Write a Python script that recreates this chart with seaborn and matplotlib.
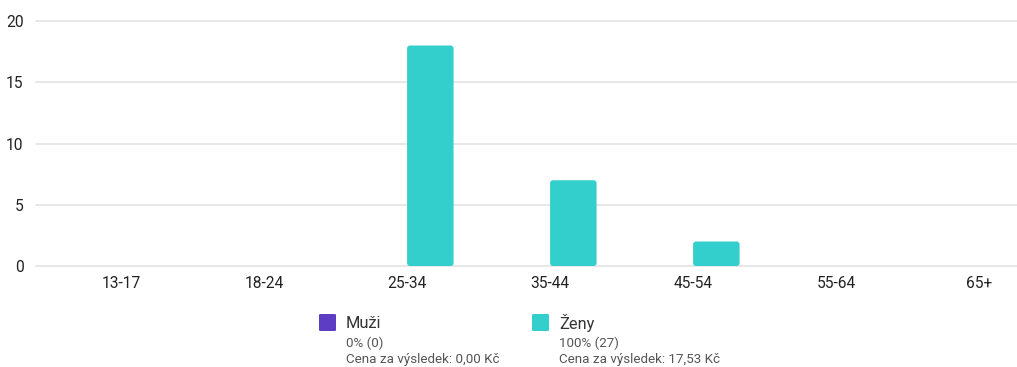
import matplotlib
matplotlib.use("Agg")
import matplotlib.pyplot as plt
from matplotlib.patches import FancyBboxPatch
import seaborn as sns
import pandas as pd

# Age groups and audience counts per gender
age_groups = ["13-17", "18-24", "25-34", "35-44", "45-54", "55-64", "65+"]
men_counts = [0, 0, 0, 0, 0, 0, 0]
women_counts = [0, 0, 18, 7, 2, 0, 0]
genders = ["Muži", "Ženy"]
cost_per_result = ["0,00 Kč", "17,53 Kč"]
colors = ["#5c3dc3", "#33cfcc"]

df = pd.DataFrame({
    "age": age_groups * 2,
    "count": men_counts + women_counts,
    "gender": [genders[0]] * len(age_groups) + [genders[1]] * len(age_groups),
})

sns.set_theme(style="white")
plt.rcParams["font.family"] = ["Roboto", "DejaVu Sans"]

W, H = 1017, 367
fig = plt.figure(figsize=(W / 100, H / 100), dpi=100)
ax = fig.add_axes([36 / W, 1 - 266 / H, (W - 36) / W, (266 - 21) / H])

sns.barplot(data=df, x="age", y="count", hue="gender", order=age_groups,
            hue_order=genders, palette=colors, width=0.65, dodge=True,
            saturation=1, legend=False, ax=ax, linewidth=0)

# Replace plain bars with slightly rounded ones
for patch in list(ax.patches):
    x, y = patch.get_x(), patch.get_y()
    w, h = patch.get_width(), patch.get_height()
    fc = patch.get_facecolor()
    patch.remove()
    if h <= 0:
        continue
    ax.add_patch(FancyBboxPatch((x, y), w, h,
                                boxstyle="round,pad=0,rounding_size=0.02",
                                mutation_aspect=12, facecolor=fc,
                                edgecolor="none", zorder=3))

ax.set_xlim(-0.595, 6.265)
ax.set_ylim(0, 20)
ax.set_yticks([0, 5, 10, 15, 20])
ax.yaxis.grid(True, color="#e3e3e3", linewidth=1.2)
for gl in ax.get_ygridlines():
    gl.set_clip_on(False)
ax.set_axisbelow(True)
for s in ax.spines.values():
    s.set_visible(False)
ax.set_xlabel("")
ax.set_ylabel("")
ax.tick_params(axis="y", length=0, pad=9, labelsize=11.2, labelcolor="#222222")
ax.tick_params(axis="x", length=0, pad=7, labelsize=11.2, labelcolor="#222222")

# Legend with per-gender share and cost per result
total = sum(men_counts) + sum(women_counts)
sums = [sum(men_counts), sum(women_counts)]
legend_x = [319, 532]
for i, g in enumerate(genders):
    x0 = legend_x[i]
    fig.patches.append(FancyBboxPatch((x0 / W, 1 - 331 / H), 17 / W, 17 / H,
                                      boxstyle="round,pad=0,rounding_size=0.002",
                                      transform=fig.transFigure, figure=fig,
                                      facecolor=colors[i], edgecolor="none"))
    fig.text((x0 + 27) / W, 1 - 323 / H, g, fontsize=11.8, color="#333333",
             va="center", ha="left")
    pct = round(100 * sums[i] / total) if total else 0
    fig.text((x0 + 27) / W, 1 - 343 / H, f"{pct}% ({sums[i]})", fontsize=9.6,
             color="#555555", va="center", ha="left")
    fig.text((x0 + 27) / W, 1 - 360 / H, f"Cena za výsledek: {cost_per_result[i]}",
             fontsize=9.6, color="#555555", va="center", ha="left")

fig.savefig("out.png", dpi=100)
